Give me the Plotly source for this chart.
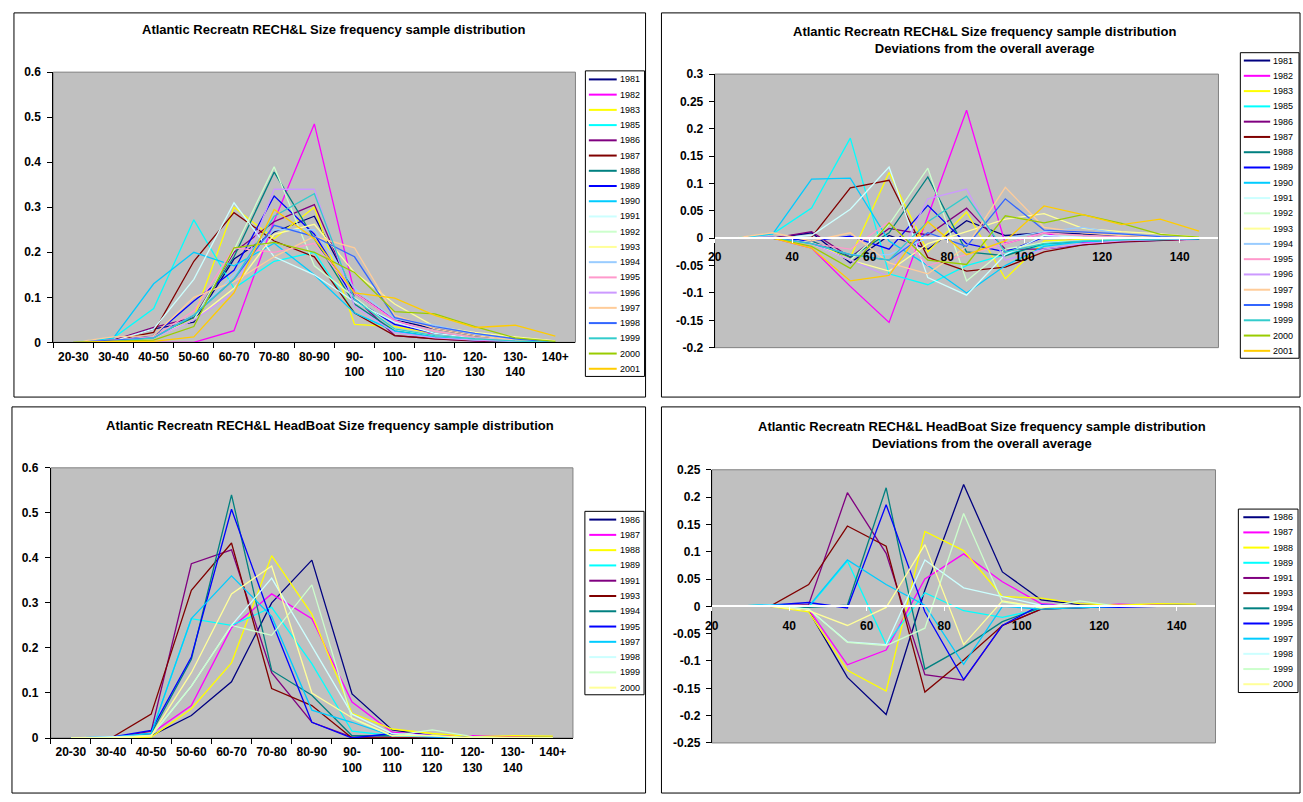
import plotly.graph_objects as go

W, H = 1303, 802


def fx(px):
    return px / W


def fy(py):
    return 1 - py / H


# ---------------------------------------------------------------- data
categories = ["20-30", "30-40", "40-50", "50-60", "60-70", "70-80", "80-90",
              "90-100", "100-110", "110-120", "120-130", "130-140", "140+"]
category_labels = ["20-30", "30-40", "40-50", "50-60", "60-70", "70-80", "80-90",
                   "90-<br>100", "100-<br>110", "110-<br>120", "120-<br>130",
                   "130-<br>140", "140+"]
midpoints = [25, 35, 45, 55, 65, 75, 85, 95, 105, 115, 125, 135, 145]

rech_years = ["1981", "1982", "1983", "1985", "1986", "1987", "1988", "1989",
              "1990", "1991", "1992", "1993", "1994", "1995", "1996", "1997",
              "1998", "1999", "2000", "2001"]
rech_colors = ["#000080", "#FF00FF", "#FFFF00", "#00FFFF", "#800080", "#800000",
               "#008080", "#0000FF", "#00CCFF", "#CCFFFF", "#CCFFCC", "#FFFF99",
               "#99CCFF", "#FF99CC", "#CC99FF", "#FFCC99", "#3366FF", "#33CCCC",
               "#99CC00", "#FFCC00"]

# proportion of sampled fish per size class, one row per year
rech_share = [
    [0, 0.005, 0.030, 0.045, 0.185, 0.245, 0.280, 0.110, 0.050, 0.030, 0.015, 0.005, 0.002],  # 1981
    [0, 0.000, 0.000, 0.000, 0.026, 0.270, 0.485, 0.110, 0.050, 0.015, 0.008, 0.003, 0.000],  # 1982
    [0, 0.003, 0.010, 0.055, 0.300, 0.230, 0.300, 0.040, 0.035, 0.020, 0.010, 0.005, 0.002],  # 1983
    [0, 0.010, 0.075, 0.272, 0.120, 0.180, 0.200, 0.065, 0.025, 0.015, 0.006, 0.002, 0.000],  # 1985
    [0, 0.005, 0.033, 0.055, 0.200, 0.268, 0.306, 0.100, 0.015, 0.008, 0.003, 0.001, 0.000],  # 1986
    [0, 0.005, 0.022, 0.180, 0.288, 0.225, 0.190, 0.065, 0.015, 0.008, 0.004, 0.002, 0.000],  # 1987
    [0, 0.002, 0.015, 0.055, 0.190, 0.378, 0.230, 0.085, 0.025, 0.012, 0.006, 0.002, 0.000],  # 1988
    [0, 0.002, 0.015, 0.092, 0.160, 0.325, 0.240, 0.095, 0.040, 0.020, 0.010, 0.004, 0.000],  # 1989
    [0, 0.010, 0.130, 0.200, 0.170, 0.220, 0.150, 0.065, 0.025, 0.012, 0.005, 0.002, 0.000],  # 1990
    [0, 0.003, 0.030, 0.140, 0.310, 0.190, 0.150, 0.090, 0.045, 0.020, 0.010, 0.005, 0.000],  # 1991
    [0, 0.002, 0.012, 0.050, 0.205, 0.390, 0.170, 0.100, 0.030, 0.015, 0.008, 0.003, 0.000],  # 1992
    [0, 0.005, 0.010, 0.050, 0.120, 0.240, 0.262, 0.155, 0.085, 0.035, 0.022, 0.012, 0.003],  # 1993
    [0, 0.005, 0.012, 0.060, 0.150, 0.250, 0.250, 0.120, 0.052, 0.038, 0.018, 0.006, 0.000],  # 1994
    [0, 0.005, 0.012, 0.070, 0.210, 0.200, 0.220, 0.110, 0.048, 0.025, 0.010, 0.003, 0.000],  # 1995
    [0, 0.002, 0.010, 0.050, 0.110, 0.340, 0.340, 0.080, 0.022, 0.010, 0.005, 0.002, 0.000],  # 1996
    [0, 0.012, 0.015, 0.100, 0.135, 0.190, 0.235, 0.210, 0.060, 0.030, 0.015, 0.005, 0.000],  # 1997
    [0, 0.005, 0.010, 0.060, 0.140, 0.260, 0.235, 0.190, 0.055, 0.035, 0.020, 0.008, 0.000],  # 1998
    [0, 0.002, 0.010, 0.060, 0.140, 0.280, 0.330, 0.095, 0.030, 0.015, 0.008, 0.003, 0.000],  # 1999
    [0, 0.002, 0.005, 0.035, 0.210, 0.222, 0.200, 0.155, 0.068, 0.063, 0.035, 0.010, 0.002],  # 2000
    [0, 0.002, 0.002, 0.012, 0.110, 0.295, 0.230, 0.110, 0.098, 0.060, 0.033, 0.038, 0.014],  # 2001
]

# deviation of each year's proportion from the all-years average
rech_dev = [
    [0, 0.000, 0.010, -0.045, 0.005, -0.020, 0.032, 0.005, 0.010, 0.008, 0.004, 0.001, 0.000],   # 1981
    [0, 0.000, -0.018, -0.088, -0.154, 0.040, 0.234, -0.010, 0.010, -0.008, -0.005, -0.003, -0.002],  # 1982
    [0, 0.000, -0.010, -0.035, 0.120, -0.025, 0.048, -0.074, -0.005, -0.002, -0.001, 0.000, -0.001],  # 1983
    [0, 0.008, 0.055, 0.183, -0.065, -0.085, -0.050, -0.030, -0.012, -0.005, -0.004, -0.002, -0.001],  # 1985
    [0, 0.000, 0.012, -0.035, 0.018, 0.006, 0.055, -0.020, -0.020, -0.012, -0.007, -0.004, -0.001],  # 1986
    [0, 0.000, 0.002, 0.092, 0.106, -0.035, -0.060, -0.053, -0.025, -0.012, -0.006, -0.003, -0.001],  # 1987
    [0, 0.000, -0.005, -0.035, 0.010, 0.112, -0.025, -0.032, -0.010, -0.006, -0.004, -0.002, -0.001],  # 1988
    [0, 0.000, -0.005, 0.004, -0.020, 0.060, -0.010, -0.025, 0.002, 0.000, -0.001, 0.000, 0.000],  # 1989
    [0, 0.008, 0.108, 0.110, -0.005, -0.050, -0.100, -0.050, -0.015, -0.006, -0.004, -0.002, -0.001],  # 1990
    [0, 0.000, 0.005, 0.053, 0.130, -0.072, -0.104, -0.030, 0.005, 0.002, 0.001, 0.000, 0.000],  # 1991
    [0, 0.000, -0.008, -0.040, 0.025, 0.128, -0.078, -0.020, -0.008, -0.004, -0.002, -0.001, 0.000],  # 1992
    [0, 0.002, -0.010, -0.040, -0.060, -0.010, 0.012, 0.035, 0.045, 0.018, 0.012, 0.008, 0.002],  # 1993
    [0, 0.002, -0.010, -0.030, -0.030, 0.000, 0.000, 0.000, 0.012, 0.020, 0.008, 0.003, 0.000],  # 1994
    [0, 0.002, -0.010, -0.020, 0.030, -0.050, -0.030, -0.010, 0.010, 0.005, 0.002, 0.000, 0.000],  # 1995
    [0, 0.000, -0.010, -0.040, -0.070, 0.072, 0.090, -0.040, -0.020, -0.010, -0.005, -0.002, 0.000],  # 1996
    [0, 0.010, -0.005, 0.010, -0.045, -0.065, -0.015, 0.093, 0.020, 0.010, 0.005, 0.002, 0.000],  # 1997
    [0, 0.002, -0.010, -0.030, -0.040, 0.010, -0.015, 0.072, 0.015, 0.012, 0.008, 0.003, 0.000],  # 1998
    [0, 0.000, -0.010, -0.030, -0.040, 0.030, 0.077, -0.025, -0.010, -0.005, -0.003, -0.001, 0.000],  # 1999
    [0, 0.000, -0.015, -0.055, 0.028, -0.040, -0.048, 0.041, 0.028, 0.043, 0.027, 0.007, 0.002],  # 2000
    [0, 0.000, -0.018, -0.078, -0.068, 0.030, -0.030, -0.005, 0.059, 0.043, 0.025, 0.035, 0.013],  # 2001
]

hb_years = ["1986", "1987", "1988", "1989", "1991", "1993", "1994", "1995",
            "1997", "1998", "1999", "2000"]
hb_colors = ["#000080", "#FF00FF", "#FFFF00", "#00FFFF", "#800080", "#800000",
             "#008080", "#0000FF", "#00CCFF", "#CCFFFF", "#CCFFCC", "#FFFF99"]

hb_share = [
    [0, 0.000, 0.005, 0.050, 0.125, 0.300, 0.395, 0.098, 0.018, 0.005, 0.002, 0.002, 0.002],  # 1986
    [0, 0.000, 0.010, 0.072, 0.245, 0.320, 0.265, 0.080, 0.013, 0.005, 0.005, 0.003, 0.000],  # 1987
    [0, 0.000, 0.002, 0.065, 0.167, 0.405, 0.275, 0.055, 0.020, 0.010, 0.003, 0.005, 0.004],  # 1988
    [0, 0.002, 0.010, 0.265, 0.250, 0.290, 0.165, 0.015, 0.005, 0.002, 0.000, 0.000, 0.000],  # 1989
    [0, 0.000, 0.015, 0.387, 0.418, 0.145, 0.035, 0.002, 0.002, 0.002, 0.000, 0.000, 0.000],  # 1991
    [0, 0.000, 0.053, 0.328, 0.433, 0.110, 0.072, 0.000, 0.000, 0.000, 0.000, 0.000, 0.000],  # 1993
    [0, 0.000, 0.010, 0.175, 0.540, 0.150, 0.095, 0.005, 0.005, 0.005, 0.000, 0.000, 0.000],  # 1994
    [0, 0.002, 0.017, 0.180, 0.508, 0.260, 0.035, 0.000, 0.010, 0.002, 0.000, 0.000, 0.000],  # 1995
    [0, 0.002, 0.010, 0.265, 0.360, 0.270, 0.062, 0.035, 0.005, 0.002, 0.000, 0.000, 0.000],  # 1997
    [0, 0.002, 0.005, 0.115, 0.250, 0.355, 0.205, 0.053, 0.010, 0.005, 0.000, 0.000, 0.000],  # 1998
    [0, 0.000, 0.005, 0.115, 0.250, 0.228, 0.340, 0.043, 0.005, 0.018, 0.003, 0.000, 0.000],  # 1999
    [0, 0.000, 0.005, 0.145, 0.320, 0.382, 0.100, 0.045, 0.005, 0.005, 0.000, 0.000, 0.000],  # 2000
]

hb_dev = [
    [0, 0.000, -0.008, -0.130, -0.198, 0.030, 0.223, 0.063, 0.012, 0.003, 0.002, 0.002, 0.002],  # 1986
    [0, 0.000, -0.005, -0.107, -0.080, 0.050, 0.096, 0.045, 0.005, 0.000, 0.004, 0.002, 0.000],  # 1987
    [0, 0.000, -0.010, -0.117, -0.155, 0.137, 0.102, 0.018, 0.015, 0.005, 0.002, 0.005, 0.004],  # 1988
    [0, 0.003, -0.002, 0.083, -0.070, 0.025, -0.008, -0.020, -0.005, -0.003, 0.000, 0.000, 0.000],  # 1989
    [0, 0.000, 0.003, 0.208, 0.097, -0.125, -0.135, -0.035, -0.005, -0.002, 0.000, 0.000, 0.000],  # 1991
    [0, 0.000, 0.040, 0.147, 0.110, -0.157, -0.098, -0.035, -0.005, -0.002, 0.000, 0.000, 0.000],  # 1993
    [0, 0.000, -0.002, 0.002, 0.217, -0.115, -0.075, -0.028, -0.002, 0.000, 0.000, 0.000, 0.000],  # 1994
    [0, 0.002, 0.007, -0.003, 0.186, -0.010, -0.134, -0.035, 0.003, -0.002, -0.002, 0.000, 0.000],  # 1995
    [0, 0.003, 0.000, 0.085, 0.040, 0.002, -0.106, 0.000, -0.005, -0.003, 0.000, 0.000, 0.000],  # 1997
    [0, 0.002, -0.005, -0.065, -0.070, 0.085, 0.034, 0.018, 0.002, 0.000, 0.000, 0.000, 0.000],  # 1998
    [0, 0.000, -0.005, -0.066, -0.072, -0.040, 0.170, 0.008, -0.003, 0.010, 0.000, 0.000, 0.000],  # 1999
    [0, 0.000, -0.008, -0.035, -0.002, 0.113, -0.070, 0.010, -0.002, 0.000, 0.000, 0.000, 0.000],  # 2000
]

share_ticks = [0, 0.1, 0.2, 0.3, 0.4, 0.5, 0.6]
rech_dev_ticks = [-0.2, -0.15, -0.1, -0.05, 0, 0.05, 0.1, 0.15, 0.2, 0.25, 0.3]
hb_dev_ticks = [-0.25, -0.2, -0.15, -0.1, -0.05, 0, 0.05, 0.1, 0.15, 0.2, 0.25]
length_ticks = [20, 40, 60, 80, 100, 120, 140]

# ---------------------------------------------------------------- styling
FONT = "Liberation Sans, Arial, sans-serif"
tick_font = dict(family=FONT, size=12, color="black", weight="bold")
LINE_W = 1.3

fig = go.Figure()

for yr, col, vals in zip(rech_years, rech_colors, rech_share):
    fig.add_trace(go.Scatter(x=categories, y=vals, mode="lines", name=yr,
                             line=dict(color=col, width=LINE_W),
                             xaxis="x", yaxis="y", showlegend=False))
for yr, col, vals in zip(rech_years, rech_colors, rech_dev):
    fig.add_trace(go.Scatter(x=midpoints, y=vals, mode="lines", name=yr,
                             line=dict(color=col, width=LINE_W),
                             xaxis="x2", yaxis="y2", showlegend=False))
for yr, col, vals in zip(hb_years, hb_colors, hb_share):
    fig.add_trace(go.Scatter(x=categories, y=vals, mode="lines", name=yr,
                             line=dict(color=col, width=LINE_W),
                             xaxis="x3", yaxis="y3", showlegend=False))
for yr, col, vals in zip(hb_years, hb_colors, hb_dev):
    fig.add_trace(go.Scatter(x=midpoints, y=vals, mode="lines", name=yr,
                             line=dict(color=col, width=LINE_W),
                             xaxis="x4", yaxis="y4", showlegend=False))

# plot-area rectangles (left, top, right, bottom) in pixels
areas = {
    "tl": (46.5, 66.3, 571.5, 341.3),
    "tr": (711.5, 68.3, 1218.0, 346.7),
    "bl": (44.0, 469.0, 569.0, 744.0),
    "br": (708.6, 471.0, 1215.0, 749.0),
}


def xdom(a):
    return [fx(a[0]), fx(a[2])]


def ydom(a):
    return [fy(a[3]), fy(a[1])]


def fmt(v):
    return f"{v:g}"


def cat_xaxis(a, anchor):
    return dict(domain=xdom(a), anchor=anchor, type="category",
                categoryorder="array", categoryarray=categories,
                range=[-0.5, len(categories) - 0.5],
                tickvals=categories, ticktext=category_labels,
                tickson="boundaries", ticks="outside", ticklen=5,
                tickcolor="black", ticklabelstandoff=3,
                showline=True, linecolor="black", linewidth=1,
                showgrid=False, zeroline=False, tickfont=tick_font)


def share_yaxis(a, anchor):
    return dict(domain=ydom(a), anchor=anchor, range=[0, 0.6],
                tickvals=share_ticks, ticktext=[fmt(v) for v in share_ticks],
                ticks="outside", ticklen=5, tickcolor="black",
                ticklabelstandoff=4,
                showline=True, linecolor="black", linewidth=1,
                showgrid=False, zeroline=False, tickfont=tick_font)


def dev_xaxis(a, lo, hi):
    dom = ydom(a)
    pos = dom[0] + (0 - lo) / (hi - lo) * (dom[1] - dom[0])
    return dict(domain=xdom(a), anchor="free", position=pos, range=[20, 150],
                tickvals=length_ticks, ticktext=[fmt(v) for v in length_ticks],
                ticks="outside", ticklen=4, tickcolor="white",
                ticklabelstandoff=4,
                showline=True, linecolor="white", linewidth=1.5,
                showgrid=False, zeroline=False, tickfont=tick_font)


def dev_yaxis(a, anchor, lo, hi, ticks):
    return dict(domain=ydom(a), anchor=anchor, range=[lo, hi],
                tickvals=ticks, ticktext=[fmt(v) for v in ticks],
                ticks="outside", ticklen=5, tickcolor="black",
                ticklabelstandoff=3,
                showline=True, linecolor="black", linewidth=1,
                showgrid=False, zeroline=False, tickfont=tick_font)


shapes = []
annotations = []

# panel frames
for x0, y0, x1, y1 in [(7, 6, 642, 397), (658, 6, 1300, 397),
                       (5, 407, 642, 800), (658, 407, 1300, 800)]:
    shapes.append(dict(type="rect", xref="paper", yref="paper",
                       x0=fx(x0), x1=fx(x1), y0=fy(y1), y1=fy(y0),
                       line=dict(color="black", width=1), layer="below"))

# plot-area outlines
for a in areas.values():
    shapes.append(dict(type="rect", xref="paper", yref="paper",
                       x0=fx(a[0]), x1=fx(a[2]), y0=fy(a[3]), y1=fy(a[1]),
                       line=dict(color="#808080", width=1), layer="below"))

# chart titles
title_font = dict(family=FONT, size=13, color="black", weight="bold")
titles = [
    (328, 22.5, "Atlantic Recreatn RECH&L Size frequency sample distribution"),
    (983, 33.2, "Atlantic Recreatn RECH&L Size frequency sample distribution"
                "<br>Deviations from the overall average"),
    (325, 425.5, "Atlantic Recreatn RECH&L HeadBoat Size frequency sample distribution"),
    (980, 435.2, "Atlantic Recreatn RECH&L HeadBoat Size frequency sample distribution"
                 "<br>Deviations from the overall average"),
]
for cx, cy, txt in titles:
    annotations.append(dict(xref="paper", yref="paper", x=fx(cx), y=fy(cy),
                            xanchor="center", yanchor="middle", text=txt,
                            showarrow=False, font=title_font, align="center"))


def add_legend(names, colors, box, first_y, step, lx0, lx1, tx):
    bx0, by0, bx1, by1 = box
    shapes.append(dict(type="rect", xref="paper", yref="paper",
                       x0=fx(bx0), x1=fx(bx1), y0=fy(by1), y1=fy(by0),
                       fillcolor="white", line=dict(color="black", width=1),
                       layer="below"))
    for i, (nm, col) in enumerate(zip(names, colors)):
        yy = first_y + i * step
        shapes.append(dict(type="line", xref="paper", yref="paper",
                           x0=fx(lx0), x1=fx(lx1), y0=fy(yy), y1=fy(yy),
                           line=dict(color=col, width=2), layer="above"))
        annotations.append(dict(xref="paper", yref="paper", x=fx(tx), y=fy(yy),
                                xanchor="left", yanchor="middle", text=nm,
                                showarrow=False,
                                font=dict(family=FONT, size=9, color="black")))


add_legend(rech_years, rech_colors, (581.5, 65, 641, 376), 73.7, 15.5, 585, 613, 614)
add_legend(rech_years, rech_colors, (1240, 46.5, 1299, 357.5), 54.5, 15.55, 1243.5, 1270, 1271)
add_legend(hb_years, hb_colors, (581, 513.3, 640.5, 700), 521.7, 15.55, 585.4, 612.5, 614)
add_legend(hb_years, hb_colors, (1238, 511, 1298, 697.7), 519.3, 15.45, 1243, 1269.2, 1270.5)

fig.update_layout(
    width=W, height=H, autosize=False,
    margin=dict(l=0, r=0, t=0, b=0, pad=0),
    paper_bgcolor="white", plot_bgcolor="#C0C0C0",
    showlegend=False,
    font=dict(family=FONT, color="black"),
    xaxis=cat_xaxis(areas["tl"], "y"),
    yaxis=share_yaxis(areas["tl"], "x"),
    xaxis2=dev_xaxis(areas["tr"], -0.2, 0.3),
    yaxis2=dev_yaxis(areas["tr"], "x2", -0.2, 0.3, rech_dev_ticks),
    xaxis3=cat_xaxis(areas["bl"], "y3"),
    yaxis3=share_yaxis(areas["bl"], "x3"),
    xaxis4=dev_xaxis(areas["br"], -0.25, 0.25),
    yaxis4=dev_yaxis(areas["br"], "x4", -0.25, 0.25, hb_dev_ticks),
    shapes=shapes,
    annotations=annotations,
)

fig.write_html("out.html")
